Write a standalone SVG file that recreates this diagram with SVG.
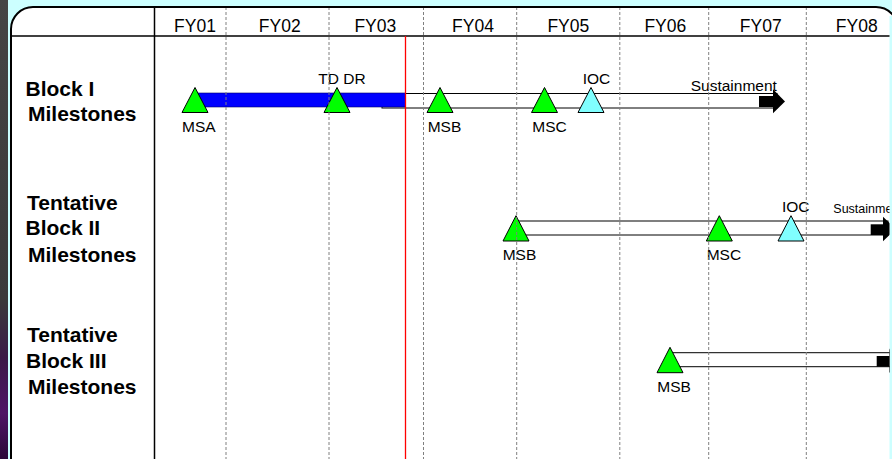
<svg xmlns="http://www.w3.org/2000/svg" width="892" height="459" viewBox="0 0 892 459">
<style>
.fy{font-family:"Liberation Sans",Arial,sans-serif;font-size:17.5px;fill:#000;text-anchor:middle}
.row{font-family:"Liberation Sans",Arial,sans-serif;font-size:21px;font-weight:bold;fill:#000}
.lbl{font-family:"Liberation Sans",Arial,sans-serif;font-size:15.5px;fill:#000}
.sm{font-family:"Liberation Sans",Arial,sans-serif;font-size:12.5px;fill:#000}
.ms{fill:#00ff00;stroke:#000;stroke-width:1}
.ioc{fill:#80ffff;stroke:#000;stroke-width:1}
.bar{fill:#fff;stroke:#000;stroke-width:1}
.grid{stroke:#808080;stroke-width:1;stroke-dasharray:3,2;fill:none}
.today{stroke:#ff0000;stroke-width:1.3;fill:none}
</style>
<defs>
<linearGradient id="side" x1="0" y1="0" x2="0" y2="1">
<stop offset="0" stop-color="#454545"/>
<stop offset="0.65" stop-color="#3a3a3a"/>
<stop offset="0.78" stop-color="#3a1a48"/>
<stop offset="0.9" stop-color="#4e1466"/>
<stop offset="1" stop-color="#2a0838"/>
</linearGradient>
<clipPath id="panel"><path d="M33,8 H889.5 V459 H12 V29 A21,21 0 0 1 33,8 Z"/></clipPath>
</defs>
<rect x="0" y="0" width="892" height="459" fill="#ccffff"/>
<rect x="0" y="0" width="8" height="459" fill="url(#side)"/>
<g id="panel-frame">
<path d="M11,463 V29 A22,22 0 0 1 33,7 H876 A22,22 0 0 1 898,29 V463 Z" fill="#fff" stroke="#000" stroke-width="2"/>
<rect x="889.5" y="16" width="2.5" height="443" fill="#ccffff"/>
</g>
<g clip-path="url(#panel)">
<g id="header">
<line x1="11" y1="36" x2="890" y2="36" stroke="#000" stroke-width="1.5"/>
<text class="fy" x="195" y="32.3">FY01</text>
<text class="fy" x="279.7" y="32.3">FY02</text>
<text class="fy" x="375.3" y="32.3">FY03</text>
<text class="fy" x="473" y="32.3">FY04</text>
<text class="fy" x="568.3" y="32.3">FY05</text>
<text class="fy" x="665.3" y="32.3">FY06</text>
<text class="fy" x="760.7" y="32.3">FY07</text>
<text class="fy" x="856.7" y="32.3">FY08</text>
</g>
<g id="row-labels">
<text class="row" x="25.5" y="95.7">Block I</text>
<text class="row" x="28" y="120.7">Milestones</text>
<text class="row" x="27" y="210">Tentative</text>
<text class="row" x="25.5" y="235">Block II</text>
<text class="row" x="28" y="261.7">Milestones</text>
<text class="row" x="27" y="341.7">Tentative</text>
<text class="row" x="26" y="367.7">Block III</text>
<text class="row" x="28" y="394">Milestones</text>
</g>
<g id="connectors">
<rect class="bar" x="382" y="93.5" width="395" height="14.5"/>
<rect x="759" y="96" width="16" height="11" fill="#000"/>
<polygon points="773,89.3 785,101.5 773,113.3" fill="#000"/>
<rect x="196" y="93" width="209.5" height="14" fill="#0000ff" stroke="#000066" stroke-width="0.6"/>
<rect class="bar" x="516" y="221" width="372" height="14"/>
<rect x="870.7" y="224.3" width="13" height="10.7" fill="#000"/>
<polygon points="883,216.7 895.5,229 883,241.3" fill="#000"/>
<rect class="bar" x="670" y="352.7" width="222" height="14"/>
<rect x="876.7" y="356" width="13" height="10.7" fill="#000"/>
<polygon points="889,348.4 901.5,360.7 889,373" fill="#000"/>
</g>
<g id="block1-msa"><polygon class="ms" points="195,87.5 208,112.5 182,112.5"/><text class="lbl" x="182" y="132.3">MSA</text></g>
<g id="block1-tddr"><polygon class="ms" points="337,87.5 350,112.5 324,112.5"/><text class="lbl" x="318.3" y="84">TD DR</text></g>
<g id="block1-msb"><polygon class="ms" points="440,87.5 453,112.5 427,112.5"/><text class="lbl" x="427.7" y="132.3">MSB</text></g>
<g id="block1-msc"><polygon class="ms" points="544.5,87.5 557.5,112.5 531.5,112.5"/><text class="lbl" x="532.3" y="132.3">MSC</text></g>
<g id="block1-ioc"><polygon class="ioc" points="591,87.5 604,112.5 578,112.5"/><text class="lbl" x="582.7" y="84">IOC</text></g>
<g id="block1-sustainment"><text class="lbl" x="690.7" y="90.7">Sustainment</text></g>
<g id="block2-msb"><polygon class="ms" points="516,215.7 529,241 503,241"/><text class="lbl" x="502.7" y="260">MSB</text></g>
<g id="block2-msc"><polygon class="ms" points="719.3,215.7 732.3,241 706.3,241"/><text class="lbl" x="706.7" y="260">MSC</text></g>
<g id="block2-ioc"><polygon class="ioc" points="791,215.7 804,241 778,241"/><text class="lbl" x="782" y="212.3">IOC</text></g>
<g id="block2-sustainment"><text class="sm" x="833.3" y="213">Sustainment</text></g>
<g id="block3-msb"><polygon class="ms" points="670,347.3 683,372.7 657,372.7"/><text class="lbl" x="657.3" y="391.7">MSB</text></g>
<g id="grid">
<line x1="154.5" y1="7" x2="154.5" y2="459" stroke="#000" stroke-width="1.5"/>
<line class="grid" x1="226" y1="7" x2="226" y2="459"/>
<line class="grid" x1="329" y1="7" x2="329" y2="459"/>
<line class="grid" x1="423.5" y1="7" x2="423.5" y2="459"/>
<line class="grid" x1="516.7" y1="7" x2="516.7" y2="459"/>
<line class="grid" x1="619.8" y1="7" x2="619.8" y2="459"/>
<line class="grid" x1="708.7" y1="7" x2="708.7" y2="459"/>
<line class="grid" x1="806.3" y1="7" x2="806.3" y2="459"/>
<line class="today" x1="405.5" y1="36" x2="405.5" y2="459"/>
</g>
</g>
</svg>
